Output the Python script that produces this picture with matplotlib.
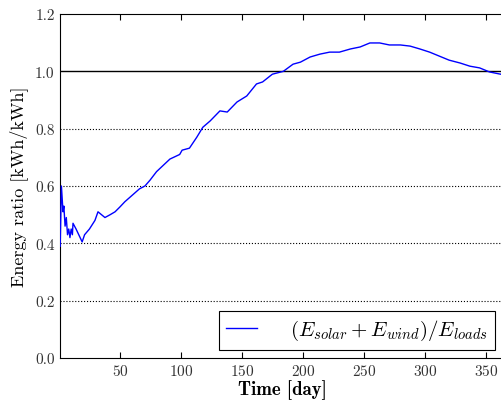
import matplotlib
matplotlib.use("Agg")
import matplotlib.pyplot as plt
import numpy as np

days = [1, 2, 3.3, 4, 5, 6, 7, 8, 9, 10, 11, 11.5, 14, 19, 21, 25, 29.5, 32, 37.7, 42, 46, 50,
        54, 58, 62, 66, 70.5, 74.6, 80, 85, 91, 99, 101, 107, 113, 118, 124, 132, 138, 146,
        154, 162, 167, 175, 184, 192, 198, 206, 214, 222, 230, 239, 247, 255, 263, 271, 280,
        288, 296, 304, 312, 320, 329, 337, 345, 353, 361, 365]
ratio = [0.39, 0.60, 0.51, 0.53, 0.46, 0.49, 0.43, 0.45, 0.42, 0.45, 0.43, 0.47, 0.45, 0.405,
         0.43, 0.45, 0.48, 0.51, 0.49, 0.50, 0.51, 0.527, 0.545, 0.56, 0.575, 0.59, 0.60, 0.62,
         0.65, 0.67, 0.694, 0.71, 0.725, 0.732, 0.77, 0.805, 0.827, 0.862, 0.858, 0.893, 0.914,
         0.956, 0.963, 0.99, 1.0, 1.025, 1.032, 1.05, 1.06, 1.067, 1.067, 1.078, 1.085, 1.099,
         1.099, 1.092, 1.092, 1.088, 1.078, 1.067, 1.053, 1.039, 1.029, 1.018, 1.012, 0.998,
         0.991, 0.988]
xticks = [50, 100, 150, 200, 250, 300, 350]
yticks = [0.0, 0.2, 0.4, 0.6, 0.8, 1.0, 1.2]

plt.rcParams['font.family'] = 'cmr10'
plt.rcParams['mathtext.fontset'] = 'cm'
plt.rcParams['axes.formatter.use_mathtext'] = True
plt.rcParams['font.size'] = 11

fig = plt.figure(figsize=(5.01, 4.02), dpi=100)
ax = fig.add_axes([60.2/501, 1-359/402, (504-60.2)/501, (359-15)/402])

for y in yticks[1:-1]:
    if y != 1.0:
        ax.axhline(y, color='black', linestyle=':', linewidth=0.8, zorder=1)
ax.axhline(1.0, color='black', linewidth=1.0, zorder=1)

ax.plot(days, ratio, color='#0000ff', linewidth=1.0,
        label=r'$(E_{solar} + E_{wind})/E_{loads}$', zorder=3)

ax.set_xlim(1, 365)
ax.set_ylim(0, 1.2)
ax.set_xticks(xticks)
ax.set_yticks(yticks)
ax.set_yticklabels([f"{v:.1f}" for v in yticks])
ax.tick_params(direction='in', top=True, right=True, length=4, width=0.8, labelsize=11,
               labelcolor='#333333')
ax.tick_params(axis='y', left=False, right=False, pad=4)
ax.set_xlabel('Time [day]', fontfamily='cmb10', fontsize=13.5, labelpad=1)
ax.set_ylabel('Energy ratio [kWh/kWh]', fontsize=13, labelpad=5)

leg = ax.legend(loc='lower right', fontsize=15, frameon=True, fancybox=False,
                edgecolor='black', framealpha=1, handlelength=1.5, handletextpad=1.55,
                borderpad=0.35, bbox_to_anchor=(1.003, -0.006))
leg.get_frame().set_linewidth(0.8)

fig.savefig('out.png', dpi=100)
